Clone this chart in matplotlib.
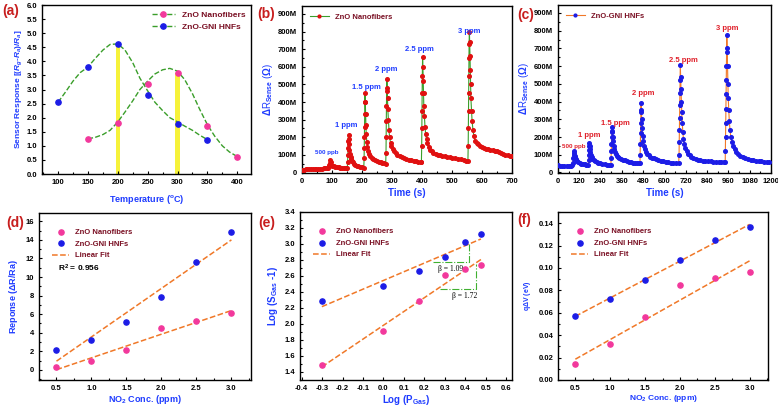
import matplotlib
matplotlib.use('Agg')
import matplotlib.pyplot as plt
import numpy as np
from matplotlib.ticker import MultipleLocator, FormatStrFormatter

plt.rcParams['font.family'] = ['Liberation Sans', 'DejaVu Sans']
plt.rcParams['font.weight'] = 'bold'
plt.rcParams['axes.unicode_minus'] = False
plt.rcParams['mathtext.fontset'] = 'custom'
plt.rcParams['mathtext.rm'] = 'Liberation Sans:bold'
plt.rcParams['mathtext.it'] = 'Liberation Sans:italic:bold'
plt.rcParams['mathtext.bf'] = 'Liberation Sans:bold'
plt.rcParams['mathtext.default'] = 'rm'

# ---- data ----
# (a) response vs temperature
temp_nf = [150, 200, 250, 300, 350, 400]
resp_nf = [1.25, 1.8, 3.2, 3.6, 1.7, 0.62]
temp_gni = [100, 150, 200, 250, 300, 350]
resp_gni = [2.55, 3.8, 4.6, 2.8, 1.78, 1.22]
# smoothed guide curves
curve_nf_x = [150, 162, 175, 187, 200, 212, 225, 237, 250, 262, 275, 287, 300, 312, 325, 337, 350, 362, 375, 387, 400]
curve_nf_y = [1.25, 1.3, 1.4, 1.55, 1.85, 2.2, 2.6, 3.0, 3.3, 3.55, 3.7, 3.75, 3.65, 3.35, 2.85, 2.3, 1.75, 1.35, 1.0, 0.78, 0.62]
curve_gni_x = [100, 112, 125, 137, 150, 162, 175, 187, 200, 212, 225, 237, 250, 262, 275, 287, 300, 312, 325, 337, 350]
curve_gni_y = [2.55, 2.9, 3.3, 3.6, 3.8, 4.1, 4.4, 4.6, 4.62, 4.4, 3.95, 3.4, 2.95, 2.55, 2.25, 2.0, 1.85, 1.7, 1.55, 1.38, 1.22]
opt_temps = [200, 300]
opt_heights = [4.6, 3.6]

# (b) ZnO nanofibers transient, (time s, M ohm)
b_pts = [(0, 15), (6, 16), (12, 17), (18, 18), (24, 19), (30, 19), (36, 20), (42, 20), (48, 21), (54, 21),
         (60, 22), (66, 22), (72, 23), (78, 24), (84, 25), (88, 28), (90, 40), (92, 55), (94, 70), (96, 58),
         (98, 45), (101, 38), (105, 34), (110, 32), (116, 30), (122, 29), (128, 28), (134, 27), (140, 26),
         (146, 25), (151, 25),
         (152, 60), (153, 100), (153.5, 140), (154, 180), (155, 215), (156, 190), (157, 160), (158, 130),
         (160, 105), (162, 90), (164, 78), (167, 66), (170, 57), (174, 50), (178, 44), (183, 39), (188, 35),
         (194, 32), (200, 30), (206, 28),
         (207, 80), (207.5, 140), (208, 200), (208.5, 260), (209, 330), (209.5, 400), (210, 450), (211, 400),
         (212, 330), (213, 270), (214, 220), (216, 175), (218, 145), (221, 120), (224, 105), (228, 92),
         (233, 82), (238, 75), (244, 69), (250, 64), (256, 60), (262, 57), (268, 54), (274, 52), (279, 50),
         (280, 110), (280.5, 200), (281, 290), (281.5, 380), (282, 460), (283, 530), (284, 480), (285, 420),
         (286, 360), (288, 300), (290, 240), (292, 200), (295, 170), (298, 150), (302, 135), (307, 120),
         (312, 110), (318, 102), (325, 95), (332, 88), (340, 82), (348, 77), (356, 73), (364, 70), (372, 66),
         (380, 63), (388, 60), (395, 58), (398, 58),
         (399, 150), (399.5, 250), (400, 350), (400.5, 450), (401, 550), (402, 655), (403, 600), (404, 520),
         (405, 450), (406, 380), (408, 320), (410, 260), (412, 220), (415, 190), (418, 165), (422, 145),
         (427, 130), (432, 120), (438, 112), (445, 105), (452, 100), (460, 97), (468, 94), (476, 91),
         (484, 88), (492, 85), (500, 83), (510, 80), (520, 77), (530, 74), (540, 71), (548, 67), (553, 64),
         (554, 150), (554.5, 250), (555, 350), (555.5, 450), (556, 550), (556.5, 650), (557, 730), (558, 800),
         (559, 740), (560, 660), (561, 580), (562, 500), (563, 420), (565, 350), (567, 290), (570, 240),
         (573, 205), (577, 180), (582, 168), (588, 160), (594, 153), (600, 147), (607, 141), (614, 136),
         (621, 132), (628, 128), (635, 125), (642, 123), (650, 120), (657, 115), (664, 110), (671, 106),
         (678, 102), (685, 99), (692, 95), (700, 92)]
b_time = [p[0] for p in b_pts]
b_resp = [p[1] for p in b_pts]
b_labels = ['500 ppb', '1 ppm', '1.5 ppm', '2 ppm', '2.5 ppm', '3 ppm']
b_label_x = [84, 148, 214, 282, 391, 558]
b_label_y = [113, 265, 484, 582, 700, 803]

# (c) ZnO-GNI HNFs transient, (time s, M ohm)
c_pts = [(0, 40), (12, 39), (24, 38), (36, 38), (48, 38), (60, 38), (72, 39), (80, 40), (84, 55), (86, 80),
         (88, 100), (90, 120), (92, 110), (94, 95), (97, 85), (100, 76), (104, 69), (109, 63), (115, 58),
         (122, 54), (130, 50), (140, 47), (150, 45), (160, 43), (170, 42),
         (172, 70), (173, 100), (174, 125), (175, 150), (176, 165), (178, 150), (180, 130), (182, 115),
         (185, 100), (189, 88), (194, 78), (200, 70), (208, 63), (217, 58), (227, 54), (238, 51), (250, 48),
         (262, 46), (275, 44), (288, 43), (298, 42),
         (299, 80), (300, 120), (301, 160), (302, 200), (303, 235), (304, 255), (306, 230), (308, 200),
         (310, 175), (313, 150), (316, 130), (320, 115), (325, 104), (331, 95), (338, 88), (346, 82),
         (355, 77), (365, 72), (375, 68), (386, 64), (398, 61), (410, 58), (422, 56), (434, 54), (446, 53),
         (458, 52), (462, 52),
         (463, 100), (464, 160), (465, 220), (466, 280), (467, 340), (468, 390), (470, 350), (472, 300),
         (474, 250), (477, 205), (480, 175), (484, 150), (489, 130), (495, 115), (502, 104), (510, 96),
         (519, 90), (529, 84), (540, 79), (552, 75), (565, 71), (578, 67), (592, 64), (606, 61), (620, 58),
         (635, 56), (650, 54), (665, 53), (680, 52),
         (682, 100), (683, 170), (684, 240), (685, 310), (686, 380), (687, 450), (688, 520), (689, 605),
         (691, 540), (693, 470), (695, 400), (697, 340), (700, 280), (703, 230), (707, 190), (712, 160),
         (718, 138), (725, 120), (733, 106), (742, 96), (752, 88), (763, 82), (775, 77), (788, 73),
         (802, 70), (816, 67), (830, 65), (845, 63), (860, 62), (875, 61), (890, 60), (905, 60), (920, 59),
         (935, 59), (942, 59),
         (943, 120), (944, 200), (945, 280), (946, 360), (947, 440), (948, 520), (949, 600), (950, 680),
         (951, 775), (953, 700), (955, 600), (957, 500), (959, 420), (962, 350), (965, 290), (969, 240),
         (974, 200), (980, 170), (987, 148), (995, 130), (1005, 115), (1016, 103), (1028, 94), (1041, 86),
         (1055, 80), (1070, 75), (1085, 71), (1100, 68), (1115, 66), (1130, 64), (1145, 62), (1160, 61),
         (1175, 60), (1190, 59)]
c_time = [p[0] for p in c_pts]
c_resp = [p[1] for p in c_pts]
c_labels = ['500 ppb', '1 ppm', '1.5 ppm', '2 ppm', '2.5 ppm', '3 ppm']
c_label_x = [90, 177, 321, 480, 704, 952]
c_label_y = [147, 208, 276, 446, 630, 813]

# (d) response vs concentration
conc = [0.5, 1.0, 1.5, 2.0, 2.5, 3.0]
d_nf = [0.3, 0.9, 2.1, 4.5, 5.3, 6.1]
d_gni = [2.15, 3.25, 5.1, 7.8, 11.6, 14.9]

# (e) log-log
log_p = [-0.301, 0.0, 0.176, 0.301, 0.398, 0.477]
e_nf = [1.48, 1.91, 2.28, 2.61, 2.68, 2.74]
e_gni = [2.29, 2.47, 2.66, 2.84, 3.02, 3.12]

# (f) band bending
f_nf = [0.0145, 0.032, 0.0565, 0.0845, 0.091, 0.0965]
f_gni = [0.057, 0.072, 0.0895, 0.1075, 0.125, 0.1365]

# ---- styling ----
PINK = '#f2389c'
BLUE = '#1c1ce6'
GREEN = '#3a9e2a'
ORANGE = '#f07828'
LBLUE = '#1f3cff'
MAROON = '#7a1024'
RED = '#c81e1e'
TFS = 5.5
MS = 14  # scatter size

W, H = 778, 409
fig = plt.figure(figsize=(W / 100, H / 100), dpi=100)


def px_axes(l, t, r, b):
    return fig.add_axes([l / W, 1 - b / H, (r - l) / W, (b - t) / H])


def style(ax):
    for s in ax.spines.values():
        s.set_linewidth(1.0)
    ax.tick_params(which='both', direction='in', labelsize=TFS, width=0.8)
    ax.tick_params(which='major', length=2.5)
    ax.tick_params(which='minor', length=1.5)
    for lab in ax.get_xticklabels() + ax.get_yticklabels():
        lab.set_fontweight('bold')


def tag(x, y, s):
    fig.text(x / W, 1 - y / H, s, color=RED, fontsize=10, fontweight='bold', va='center', ha='left')


# (a)
ax = px_axes(42, 5, 251, 174)
ax.bar(opt_temps, opt_heights, width=7, color='#f6f23a', zorder=1)
ax.plot(curve_nf_x, curve_nf_y, '--', color=GREEN, lw=1.0, zorder=2)
ax.plot(curve_gni_x, curve_gni_y, '--', color=GREEN, lw=1.0, zorder=2)
ax.plot(temp_nf, resp_nf, 'o', color=PINK, ms=3.8, zorder=5)
ax.plot(temp_gni, resp_gni, 'o', color=BLUE, ms=3.8, zorder=5)
h1, = ax.plot([], [], '--o', color=GREEN, mfc=PINK, mec=PINK, ms=3.8, lw=1.0)
h2, = ax.plot([], [], '--o', color=GREEN, mfc=BLUE, mec=BLUE, ms=3.8, lw=1.0)
leg = ax.legend([h1, h2], ['ZnO Nanofibers', 'ZnO-GNI HNFs'], loc='upper right', frameon=False,
                fontsize=6, handlelength=2.8, labelspacing=0.5, borderaxespad=0.3)
for t in leg.get_texts():
    t.set_color(MAROON)
ax.set_xlim(73, 423)
ax.set_ylim(0, 6.0)
ax.xaxis.set_major_locator(MultipleLocator(50))
ax.xaxis.set_minor_locator(MultipleLocator(25))
ax.yaxis.set_major_locator(MultipleLocator(0.5))
ax.yaxis.set_major_formatter(FormatStrFormatter('%.1f'))
ax.set_xlabel('Temperature ($^o$C)', color=LBLUE, fontsize=6.5, fontweight='bold', labelpad=5)
ax.set_ylabel('Sensor Response [($\\it{R}_g$-$\\it{R}_a$)/$\\it{R}_a$]', color=LBLUE, fontsize=6,
              fontweight='bold', labelpad=2)
style(ax)
tag(2, 11, '(a)')

# (b)
ax = px_axes(302, 6, 512, 173)
ax.plot(b_time, b_resp, '-', color=GREEN, lw=0.8, zorder=2)
ax.plot(b_time, b_resp, 'o', color='#e01010', ms=2.6, zorder=3)
hb, = ax.plot([], [], '-o', color=GREEN, mfc='#e01010', mec='#e01010', ms=2.0, lw=0.8)
leg = ax.legend([hb], ['ZnO Nanofibers'], loc='upper left', frameon=False, fontsize=5.5,
                handlelength=2.5, borderaxespad=0.6)
for t in leg.get_texts():
    t.set_color(MAROON)
for s, x, y in zip(b_labels, b_label_x, b_label_y):
    ax.text(x, y, s, color=LBLUE, fontsize=4.5 if s == '500 ppb' else 5.5, fontweight='bold',
            ha='center', va='center')
ax.set_xlim(0, 700)
ax.set_ylim(-3, 945)
ax.xaxis.set_major_locator(MultipleLocator(100))
ax.xaxis.set_minor_locator(MultipleLocator(50))
ax.set_yticks(range(0, 901, 100))
ax.set_yticklabels(['0'] + ['%dM' % v for v in range(100, 901, 100)])
ax.yaxis.set_minor_locator(MultipleLocator(50))
ax.set_xlabel('Time (s)', color=LBLUE, fontsize=7, fontweight='bold', labelpad=2)
ax.set_ylabel('$\\Delta$R$_{Sense}$ ($\\Omega$)', color=LBLUE, fontsize=7, labelpad=2)
style(ax)
tag(257, 14, '(b)')

# (c)
ax = px_axes(558, 5, 771, 173)
ax.plot(c_time, c_resp, '-', color=ORANGE, lw=0.8, zorder=2)
ax.plot(c_time, c_resp, 'o', color=BLUE, ms=2.6, zorder=3)
hc, = ax.plot([], [], '-o', color=ORANGE, mfc=BLUE, mec=BLUE, ms=2.0, lw=0.8)
leg = ax.legend([hc], ['ZnO-GNI HNFs'], loc='upper left', frameon=False, fontsize=5.5,
                handlelength=2.5, borderaxespad=0.6)
for t in leg.get_texts():
    t.set_color(MAROON)
for s, x, y in zip(c_labels, c_label_x, c_label_y):
    ax.text(x, y, s, color='#e0202a', fontsize=4.5 if s == '500 ppb' else 5.5, fontweight='bold',
            ha='center', va='center')
ax.set_xlim(0, 1200)
ax.set_ylim(-3, 945)
ax.set_xticks(range(0, 1201, 120))
ax.xaxis.set_minor_locator(MultipleLocator(60))
ax.set_yticks(range(0, 901, 100))
ax.set_yticklabels(['0'] + ['%dM' % v for v in range(100, 901, 100)])
ax.yaxis.set_minor_locator(MultipleLocator(50))
ax.set_xlabel('Time (s)', color=LBLUE, fontsize=7, fontweight='bold', labelpad=2)
ax.set_ylabel('$\\Delta$R$_{Sense}$ ($\\Omega$)', color=LBLUE, fontsize=7, labelpad=2)
style(ax)
tag(517, 15, '(c)')


def fit_line(ax, x, y):
    k, b0 = np.polyfit(x, y, 1)
    xs = np.array([min(x), max(x)])
    return ax.plot(xs, k * xs + b0, '--', color=ORANGE, lw=1.1, zorder=2)[0]


def three_legend(ax, hfit):
    hp = ax.scatter([], [], s=MS, color=PINK)
    hb2 = ax.scatter([], [], s=MS, color=BLUE)
    leg = ax.legend([hp, hb2, hfit], ['ZnO Nanofibers', 'ZnO-GNI HNFs', 'Linear Fit'], loc='upper left',
                    frameon=False, fontsize=5.5, handlelength=2.2, labelspacing=0.6,
                    bbox_to_anchor=(0.03, 0.95))
    for t in leg.get_texts():
        t.set_color(MAROON)


# (d)
ax = px_axes(39, 213, 251, 380)
fit_line(ax, conc, d_nf)
hf = fit_line(ax, conc, d_gni)
ax.scatter(conc, d_nf, s=MS, color=PINK, zorder=5)
ax.scatter(conc, d_gni, s=MS, color=BLUE, zorder=5)
three_legend(ax, hf)
ax.text(0.52, 10.9, 'R$^2$ = 0.956', fontsize=6, fontweight='bold', color='black', va='center')
ax.set_xlim(0.25, 3.28)
ax.set_ylim(-1.1, 16.9)
ax.xaxis.set_major_locator(MultipleLocator(0.5))
ax.xaxis.set_minor_locator(MultipleLocator(0.25))
ax.yaxis.set_major_locator(MultipleLocator(2))
ax.yaxis.set_minor_locator(MultipleLocator(1))
ax.xaxis.set_major_formatter(FormatStrFormatter('%.1f'))
ax.set_xlabel('NO$_2$ Conc. (ppm)', color=LBLUE, fontsize=6.5, fontweight='bold', labelpad=1)
ax.set_ylabel('Reponse ($\\Delta$R/Ra)', color=LBLUE, fontsize=6.5, fontweight='bold', labelpad=4)
style(ax)
tag(6, 223, '(d)')

# (e)
ax = px_axes(300, 212, 512, 380)
fit_line(ax, log_p, e_nf)
hf = fit_line(ax, log_p, e_gni)
ax.scatter(log_p, e_nf, s=MS, color=PINK, zorder=5)
ax.scatter(log_p, e_gni, s=MS, color=BLUE, zorder=5)
three_legend(ax, hf)
gkw = dict(color='#3fb030', lw=0.8, ls='-.', zorder=3)
ax.plot([0.245, 0.417, 0.417], [2.78, 2.78, 3.0], **gkw)
ax.plot([0.278, 0.453, 0.453], [2.43, 2.43, 2.75], **gkw)
ax.text(0.33, 2.68, '\u03b2 = 1.09', family='Liberation Serif', fontweight='normal', fontsize=5.5,
        ha='center', va='center')
ax.text(0.40, 2.35, '\u03b2 = 1.72', family='Liberation Serif', fontweight='normal', fontsize=5.5,
        ha='center', va='center')
ax.set_xlim(-0.408, 0.629)
ax.set_ylim(1.296, 3.4)
ax.xaxis.set_major_locator(MultipleLocator(0.1))
ax.yaxis.set_major_locator(MultipleLocator(0.2))
ax.yaxis.set_minor_locator(MultipleLocator(0.1))
ax.xaxis.set_major_formatter(FormatStrFormatter('%.1f'))
ax.yaxis.set_major_formatter(FormatStrFormatter('%.1f'))
ax.set_xlabel('Log (P$_{Gas}$)', color=LBLUE, fontsize=7, fontweight='bold', labelpad=1)
ax.set_ylabel('Log (S$_{Gas}$ -1)', color=LBLUE, fontsize=7, fontweight='bold', labelpad=3)
style(ax)
tag(258, 223, '(e)')

# (f)
ax = px_axes(558, 212, 768, 380)
fit_line(ax, conc, f_nf)
hf = fit_line(ax, conc, f_gni)
ax.scatter(conc, f_nf, s=MS, color=PINK, zorder=5)
ax.scatter(conc, f_gni, s=MS, color=BLUE, zorder=5)
three_legend(ax, hf)
ax.set_xlim(0.251, 3.263)
ax.set_ylim(0, 0.15)
ax.xaxis.set_major_locator(MultipleLocator(0.5))
ax.xaxis.set_minor_locator(MultipleLocator(0.25))
ax.yaxis.set_major_locator(MultipleLocator(0.02))
ax.yaxis.set_minor_locator(MultipleLocator(0.01))
ax.xaxis.set_major_formatter(FormatStrFormatter('%.1f'))
ax.yaxis.set_major_formatter(FormatStrFormatter('%.2f'))
ax.set_xlabel('NO$_2$ Conc. (ppm)', color=LBLUE, fontsize=6, fontweight='bold', labelpad=1)
ax.set_ylabel('q$\\Delta$V (eV)', color=LBLUE, fontsize=5, fontweight='bold', labelpad=4)
style(ax)
tag(517, 220, '(f)')

fig.savefig('out.png', dpi=100)
